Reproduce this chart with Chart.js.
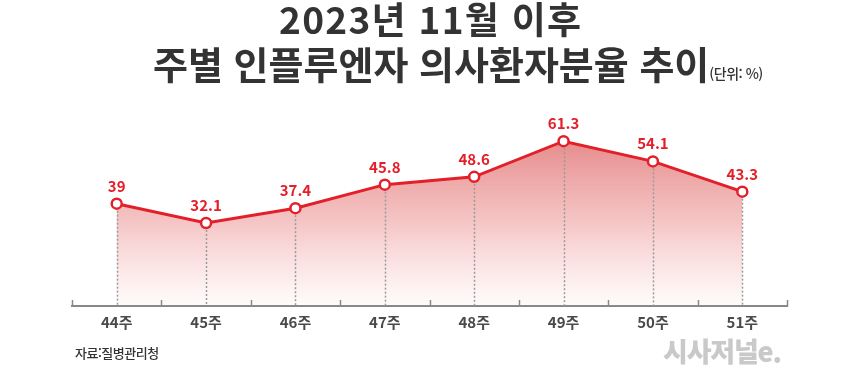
<!DOCTYPE html>
<html lang="ko">
<head>
<meta charset="utf-8">
<script src="https://cdn.jsdelivr.net/npm/chart.js@4/dist/chart.umd.min.js"></script>
<style>
  html, body { margin: 0; padding: 0; background: #fff; }
  #wrap { position: relative; width: 860px; height: 379px; overflow: hidden; font-family: "Noto Sans CJK KR", "Noto Sans", sans-serif; }
  #chart { position: absolute; left: 0; top: 0; }
  .t1, .t2 { position: absolute; color: #333; font-weight: 700; white-space: nowrap; line-height: 1; }
  .t1 { top: 0px; left: 279px; font-size: 37px; letter-spacing: 1.3px; }
  .t2 { top: 44px; left: 153px; font-size: 38px; letter-spacing: 0px; }
  .t2 small { font-size: 14px; font-weight: 500; letter-spacing: -0.5px; }
  .src { position: absolute; left: 75px; top: 343px; font-size: 13px; color: #333; font-weight: 500; letter-spacing: -0.5px; }
  .wm { position: absolute; left: 663px; top: 331px; font-size: 27px; color: #c9c9c9; font-weight: 900; letter-spacing: -1.2px; }
</style>
</head>
<body>
<div id="wrap">
  <canvas id="chart" width="860" height="379"></canvas>
  <div class="t1">2023년 11월 이후</div>
  <div class="t2">주별 인플루엔자 의사환자분율 추이<small>(단위: %)</small></div>
  <div class="src">자료:질병관리청</div>
  <div class="wm">시사저널e.</div>
</div>
<script>
const categories = ["44주", "45주", "46주", "47주", "48주", "49주", "50주", "51주"];
const rates = [39, 32.1, 37.4, 45.8, 48.6, 61.3, 54.1, 43.3];
const valueLabels = ["39", "32.1", "37.4", "45.8", "48.6", "61.3", "54.1", "43.3"];

const RED = "#e3202a";

const decorPlugin = {
  id: "decor",
  afterDatasetsDraw(chart) {
    const ctx = chart.ctx;
    const meta = chart.getDatasetMeta(0);
    const xs = chart.scales.x;
    const bottom = chart.chartArea.bottom;
    ctx.save();
    // dotted drop lines
    ctx.strokeStyle = "#9a9a9a";
    ctx.lineWidth = 1.5;
    ctx.setLineDash([2, 2]);
    meta.data.forEach(p => {
      ctx.beginPath();
      ctx.moveTo(Math.round(p.x) + 0.5, p.y + 7);
      ctx.lineTo(Math.round(p.x) + 0.5, bottom);
      ctx.stroke();
    });
    ctx.setLineDash([]);
    // tick marks at category boundaries
    ctx.strokeStyle = "#888";
    ctx.lineWidth = 1.5;
    const n = categories.length;
    const step = (xs.right - xs.left) / n;
    for (let i = 0; i <= n; i++) {
      const x = Math.round(xs.left + step * i) + 0.5;
      ctx.beginPath();
      ctx.moveTo(x, bottom - 6);
      ctx.lineTo(x, bottom + 1);
      ctx.stroke();
    }
    // category labels
    ctx.fillStyle = "#4a4a4a";
    ctx.font = "700 15px 'Noto Sans CJK KR', sans-serif";
    ctx.textAlign = "center";
    ctx.textBaseline = "middle";
    categories.forEach((c, i) => {
      ctx.fillText(c, xs.getPixelForValue(i), bottom + 16);
    });
    // value labels
    ctx.fillStyle = RED;
    ctx.textBaseline = "alphabetic";
    meta.data.forEach((p, i) => {
      ctx.fillText(valueLabels[i], p.x, p.y - 12);
    });
    ctx.restore();
  }
};

new Chart(document.getElementById("chart"), {
  type: "line",
  data: {
    labels: categories,
    datasets: [{
      data: rates,
      borderColor: RED,
      borderWidth: 3,
      pointRadius: 5,
      pointHoverRadius: 5,
      pointBorderWidth: 2.5,
      pointBackgroundColor: "#fff",
      pointBorderColor: RED,
      tension: 0,
      fill: "start",
      backgroundColor(c) {
        const ca = c.chart.chartArea;
        if (!ca) return "rgba(220,80,80,0.5)";
        const g = c.chart.ctx.createLinearGradient(0, 140, 0, ca.bottom);
        g.addColorStop(0, "rgba(214,62,62,0.6)");
        g.addColorStop(0.5, "rgba(226,90,90,0.35)");
        g.addColorStop(1, "rgba(240,120,120,0.02)");
        return g;
      }
    }]
  },
  options: {
    responsive: false,
    animation: false,
    events: [],
    layout: { padding: { left: 72, right: 73, top: 100, bottom: 65 } },
    plugins: { legend: { display: false }, tooltip: { enabled: false }, title: { display: false } },
    scales: {
      x: {
        offset: true,
        grid: { display: false },
        border: { display: true, color: "#888", width: 2 },
        ticks: { display: false }
      },
      y: {
        display: false,
        min: 2.5,
        max: 76
      }
    }
  },
  plugins: [decorPlugin]
});
</script>
</body>
</html>
